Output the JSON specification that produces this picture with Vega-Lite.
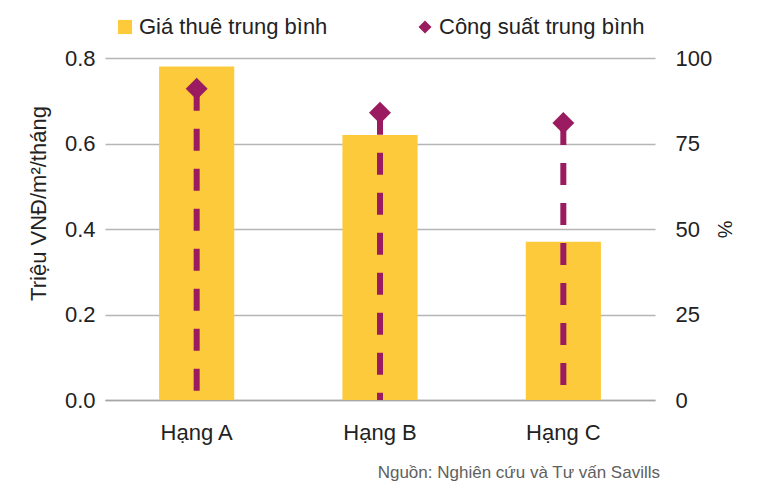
{
  "$schema": "https://vega.github.io/schema/vega-lite/v6.json",
  "autosize": {"type": "none"},
  "padding": {"left": 105, "top": 58, "right": 105, "bottom": 101},
  "width": 550,
  "height": 342,
  "background": "white",
  "config": {
    "font": "Liberation Sans",
    "view": {"stroke": null}
  },
  "title": {
    "text": "Nguồn: Nghiên cứu và Tư vấn Savills",
    "orient": "bottom",
    "anchor": "end",
    "frame": "group",
    "fontSize": 17,
    "fontWeight": "normal",
    "color": "#606060",
    "offset": 22,
    "dx": 5
  },
  "data": {
    "values": [
      {"hang": "Hạng A", "gia": 0.78, "cs": 91, "s1": "Giá thuê trung bình", "s2": "Công suất trung bình"},
      {"hang": "Hạng B", "gia": 0.62, "cs": 84, "s1": "Giá thuê trung bình", "s2": "Công suất trung bình"},
      {"hang": "Hạng C", "gia": 0.37, "cs": 81, "s1": "Giá thuê trung bình", "s2": "Công suất trung bình"}
    ]
  },
  "encoding": {
    "x": {
      "field": "hang",
      "type": "nominal",
      "sort": null,
      "scale": {"paddingInner": 0.59, "paddingOuter": 0.295},
      "axis": {
        "title": null,
        "labelAngle": 0,
        "labelFontSize": 22,
        "labelColor": "#222222",
        "labelPadding": 22,
        "ticks": false,
        "domain": true,
        "domainColor": "#a6a6a6",
        "domainWidth": 1.5
      }
    }
  },
  "layer": [
    {
      "mark": {"type": "bar"},
      "encoding": {
        "y": {
          "field": "gia",
          "type": "quantitative",
          "scale": {"domain": [0, 0.8]},
          "axis": {
            "title": "Triệu VNĐ/m²/tháng",
            "titleFontSize": 22,
            "titleFontWeight": "normal",
            "titleColor": "#222222",
            "titleAngle": -90,
            "titleX": -55,
            "titleY": 145,
            "titleAlign": "center",
            "titleBaseline": "bottom",
            "values": [0, 0.2, 0.4, 0.6, 0.8],
            "format": ".1f",
            "labelFontSize": 22,
            "labelColor": "#222222",
            "labelPadding": 10,
            "ticks": false,
            "domain": false,
            "grid": true,
            "gridColor": "#b5b5b5",
            "gridWidth": 1.3
          }
        },
        "color": {
          "field": "s1",
          "type": "nominal",
          "scale": {"domain": ["Giá thuê trung bình", "Công suất trung bình"], "range": ["#FDCA3C", "#9B1B60"]},
          "legend": {
            "title": null,
            "orient": "none",
            "direction": "horizontal",
            "legendX": 9,
            "legendY": -42,
            "labelFontSize": 22,
            "labelColor": "#222222",
            "labelOffset": 3,
            "symbolSize": 200,
            "symbolStrokeWidth": 0,
            "columnPadding": 86,
            "labelLimit": 400,
            "encode": {
              "symbols": {
                "update": {
                  "shape": {"signal": "datum.value === 'Giá thuê trung bình' ? 'square' : 'diamond'"},
                  "size": {"signal": "datum.value === 'Giá thuê trung bình' ? 200 : 170"}
                }
              }
            }
          }
        }
      }
    },
    {
      "layer": [
        {
          "mark": {"type": "rule", "strokeWidth": 6, "strokeDash": [22, 18], "color": "#9B1B60"},
          "encoding": {
            "y": {"field": "cs", "type": "quantitative"},
            "y2": {"datum": 0}
          }
        },
        {
          "mark": {"type": "point", "shape": "diamond", "size": 480, "filled": true, "color": "#9B1B60", "opacity": 1},
          "encoding": {
            "y": {
              "field": "cs",
              "type": "quantitative",
              "scale": {"domain": [0, 100]},
              "axis": {
                "orient": "right",
                "title": "%",
                "titleFontSize": 20,
                "titleFontWeight": "normal",
                "titleColor": "#222222",
                "titleAngle": 90,
                "titleX": 68,
                "titleY": 171,
                "titleAlign": "center",
                "titleBaseline": "middle",
                "values": [0, 25, 50, 75, 100],
                "labelFontSize": 22,
                "labelColor": "#222222",
                "labelPadding": 20,
                "ticks": false,
                "domain": false,
                "grid": false
              }
            }
          }
        }
      ]
    }
  ],
  "resolve": {"scale": {"y": "independent", "color": "shared"}}
}
